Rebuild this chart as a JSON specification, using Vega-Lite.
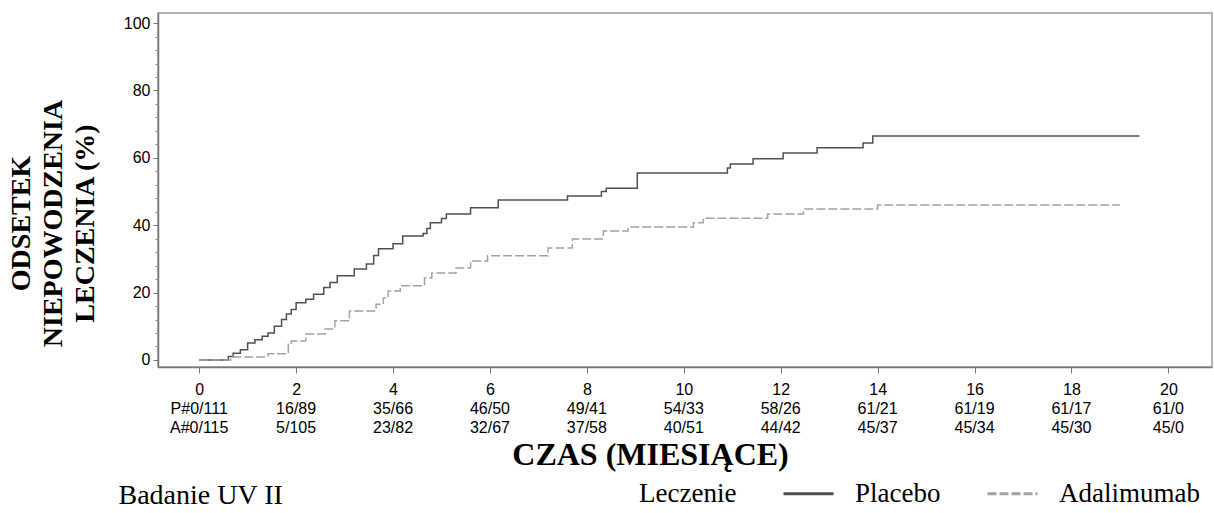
{
  "$schema": "https://vega.github.io/schema/vega-lite/v6.json",
  "padding": {"left": 6, "top": 12, "right": 0, "bottom": 0},
  "background": "white",
  "config": {"view": {"stroke": "#9a9a9a", "strokeWidth": 1.5}, "font": "Liberation Sans"},
  "spacing": 32,
  "bounds": "flush",
  "datasets": {
    "km": [
      {"grp": "Placebo", "t": 0, "v": 0},
      {"grp": "Placebo", "t": 0.6, "v": 1},
      {"grp": "Placebo", "t": 0.7, "v": 2},
      {"grp": "Placebo", "t": 0.85, "v": 3},
      {"grp": "Placebo", "t": 1.0, "v": 5},
      {"grp": "Placebo", "t": 1.15, "v": 6},
      {"grp": "Placebo", "t": 1.3, "v": 7},
      {"grp": "Placebo", "t": 1.42, "v": 8},
      {"grp": "Placebo", "t": 1.55, "v": 10},
      {"grp": "Placebo", "t": 1.7, "v": 12},
      {"grp": "Placebo", "t": 1.8, "v": 13.6},
      {"grp": "Placebo", "t": 1.9, "v": 15},
      {"grp": "Placebo", "t": 2.0, "v": 17},
      {"grp": "Placebo", "t": 2.2, "v": 18},
      {"grp": "Placebo", "t": 2.36, "v": 19.5},
      {"grp": "Placebo", "t": 2.57, "v": 21.5},
      {"grp": "Placebo", "t": 2.7, "v": 23},
      {"grp": "Placebo", "t": 2.85, "v": 25},
      {"grp": "Placebo", "t": 3.2, "v": 27},
      {"grp": "Placebo", "t": 3.45, "v": 28.5},
      {"grp": "Placebo", "t": 3.6, "v": 31},
      {"grp": "Placebo", "t": 3.7, "v": 33},
      {"grp": "Placebo", "t": 4.0, "v": 34.5},
      {"grp": "Placebo", "t": 4.2, "v": 36.8},
      {"grp": "Placebo", "t": 4.62, "v": 37.5},
      {"grp": "Placebo", "t": 4.7, "v": 39},
      {"grp": "Placebo", "t": 4.77, "v": 40.7},
      {"grp": "Placebo", "t": 5.0, "v": 42},
      {"grp": "Placebo", "t": 5.1, "v": 43.3},
      {"grp": "Placebo", "t": 5.6, "v": 45.2},
      {"grp": "Placebo", "t": 6.17, "v": 47.5},
      {"grp": "Placebo", "t": 7.6, "v": 48.7},
      {"grp": "Placebo", "t": 8.3, "v": 50},
      {"grp": "Placebo", "t": 8.4, "v": 51},
      {"grp": "Placebo", "t": 9.04, "v": 55.5},
      {"grp": "Placebo", "t": 10.9, "v": 57},
      {"grp": "Placebo", "t": 10.96, "v": 58.2},
      {"grp": "Placebo", "t": 11.43, "v": 59.7},
      {"grp": "Placebo", "t": 12.05, "v": 61.4},
      {"grp": "Placebo", "t": 12.75, "v": 63},
      {"grp": "Placebo", "t": 13.7, "v": 64.4},
      {"grp": "Placebo", "t": 13.9, "v": 66.5},
      {"grp": "Placebo", "t": 19.4, "v": 66.5},
      {"grp": "Adalimumab", "t": 0, "v": 0},
      {"grp": "Adalimumab", "t": 0.65, "v": 0.9},
      {"grp": "Adalimumab", "t": 1.42, "v": 1.8},
      {"grp": "Adalimumab", "t": 1.84, "v": 4.7},
      {"grp": "Adalimumab", "t": 1.9, "v": 5.6},
      {"grp": "Adalimumab", "t": 2.2, "v": 7.7},
      {"grp": "Adalimumab", "t": 2.6, "v": 9.2},
      {"grp": "Adalimumab", "t": 2.8, "v": 11.6},
      {"grp": "Adalimumab", "t": 3.1, "v": 14.5},
      {"grp": "Adalimumab", "t": 3.65, "v": 16.5},
      {"grp": "Adalimumab", "t": 3.8, "v": 18.4},
      {"grp": "Adalimumab", "t": 3.9, "v": 20.5},
      {"grp": "Adalimumab", "t": 4.15, "v": 22},
      {"grp": "Adalimumab", "t": 4.65, "v": 24.3},
      {"grp": "Adalimumab", "t": 4.8, "v": 25.8},
      {"grp": "Adalimumab", "t": 5.3, "v": 27.3},
      {"grp": "Adalimumab", "t": 5.6, "v": 29.4},
      {"grp": "Adalimumab", "t": 5.95, "v": 30.9},
      {"grp": "Adalimumab", "t": 7.2, "v": 33.2},
      {"grp": "Adalimumab", "t": 7.7, "v": 35.9},
      {"grp": "Adalimumab", "t": 8.34, "v": 38.3},
      {"grp": "Adalimumab", "t": 8.85, "v": 39.5},
      {"grp": "Adalimumab", "t": 10.2, "v": 40.7},
      {"grp": "Adalimumab", "t": 10.4, "v": 42.1},
      {"grp": "Adalimumab", "t": 11.73, "v": 43.3},
      {"grp": "Adalimumab", "t": 12.47, "v": 44.8},
      {"grp": "Adalimumab", "t": 14.0, "v": 46},
      {"grp": "Adalimumab", "t": 19.0, "v": 46}
    ],
    "risk": [
      {"row": "P", "t": 0, "label": "P#0/111"},
      {"row": "P", "t": 2, "label": "16/89"},
      {"row": "P", "t": 4, "label": "35/66"},
      {"row": "P", "t": 6, "label": "46/50"},
      {"row": "P", "t": 8, "label": "49/41"},
      {"row": "P", "t": 10, "label": "54/33"},
      {"row": "P", "t": 12, "label": "58/26"},
      {"row": "P", "t": 14, "label": "61/21"},
      {"row": "P", "t": 16, "label": "61/19"},
      {"row": "P", "t": 18, "label": "61/17"},
      {"row": "P", "t": 20, "label": "61/0"},
      {"row": "A", "t": 0, "label": "A#0/115"},
      {"row": "A", "t": 2, "label": "5/105"},
      {"row": "A", "t": 4, "label": "23/82"},
      {"row": "A", "t": 6, "label": "32/67"},
      {"row": "A", "t": 8, "label": "37/58"},
      {"row": "A", "t": 10, "label": "40/51"},
      {"row": "A", "t": 12, "label": "44/42"},
      {"row": "A", "t": 14, "label": "45/37"},
      {"row": "A", "t": 16, "label": "45/34"},
      {"row": "A", "t": 18, "label": "45/30"},
      {"row": "A", "t": 20, "label": "45/0"}
    ]
  },
  "vconcat": [
    {
      "width": 1054,
      "height": 354,
      "data": {"name": "km"},
      "layer": [
        {
          "mark": {"type": "line", "interpolate": "step-after", "strokeWidth": 1.5},
          "encoding": {
            "x": {"field": "t", "type": "quantitative",
              "scale": {"domain": [-0.85, 20.9], "nice": false, "zero": false},
              "axis": {"values": [0, 2, 4, 6, 8, 10, 12, 14, 16, 18, 20], "title": null, "grid": false, "tickSize": 6, "labelPadding": 8, "labelFontSize": 16, "labelFont": "Liberation Sans", "labelColor": "#000", "domainColor": "#777", "tickColor": "#777", "domainWidth": 1.5, "labelFlush": false}},
            "y": {"field": "v", "type": "quantitative",
              "scale": {"domain": [-2.1, 103], "nice": false, "zero": false},
              "axis": {"values": [0, 20, 40, 60, 80, 100], "grid": false, "tickSize": 5, "labelPadding": 3, "labelFontSize": 16, "labelFont": "Liberation Sans", "labelColor": "#000", "domainColor": "#777", "tickColor": "#777", "domainWidth": 1.5,
                "title": ["ODSETEK", "NIEPOWODZENIA", "LECZENIA (%)"], "titleFont": "Liberation Serif", "titleFontSize": 28, "titleFontWeight": "bold", "titleColor": "#000", "titleLineHeight": 32, "titleAngle": -90, "titleAlign": "center", "titleBaseline": "bottom", "titleX": -123, "titleY": 210}},
            "color": {"field": "grp", "type": "nominal",
              "scale": {"domain": ["Leczenie", "Placebo", "Adalimumab"], "range": ["rgba(0,0,0,0)", "#505050", "#a3a3a3"]},
              "legend": {"title": null, "orient": "none", "legendX": 408, "legendY": 454, "direction": "horizontal", "labelFont": "Liberation Serif", "labelFontSize": 27, "labelColor": "#000", "symbolType": "stroke", "symbolSize": 2500, "symbolStrokeWidth": 3, "labelOffset": 20, "columnPadding": 40}},
            "strokeDash": {"field": "grp", "type": "nominal",
              "scale": {"domain": ["Leczenie", "Placebo", "Adalimumab"], "range": [[1, 0], [1, 0], [9, 3]]},
              "legend": {"title": null, "orient": "none", "legendX": 408, "legendY": 454, "direction": "horizontal", "labelFont": "Liberation Serif", "labelFontSize": 27, "labelColor": "#000", "symbolType": "stroke", "symbolSize": 2500, "symbolStrokeWidth": 3, "labelOffset": 20, "columnPadding": 40}}
          }
        },
        {
          "mark": {"type": "line", "opacity": 0},
          "encoding": {
            "x": {"field": "t", "type": "quantitative", "scale": {"domain": [-0.85, 20.9], "nice": false, "zero": false},
              "axis": {"orient": "bottom", "labels": false, "ticks": false, "domain": false, "grid": false, "title": "Badanie UV II", "titleX": -40, "titleY": 136, "titleAlign": "left", "titleAnchor": "start", "titleBaseline": "alphabetic", "titleFont": "Liberation Serif", "titleFontSize": 28, "titleFontWeight": "normal", "titleColor": "#000"}},
            "y": {"field": "v", "type": "quantitative",
              "scale": {"domain": [-2.1, 103], "nice": false, "zero": false},
              "axis": {"orient": "left", "values": [4, 8, 12, 16, 24, 28, 32, 36, 44, 48, 52, 56, 64, 68, 72, 76, 84, 88, 92, 96], "labels": false, "domain": false, "grid": false, "tickSize": 3, "tickColor": "#888", "title": null}}
          }
        }
      ],
      "resolve": {"axis": {"y": "independent", "x": "independent"}}
    },
    {
      "width": 1054,
      "height": 38,
      "view": {"stroke": null},
      "data": {"name": "risk"},
      "mark": {"type": "text", "fontSize": 16, "font": "Liberation Sans", "color": "#000", "baseline": "middle"},
      "encoding": {
        "x": {"field": "t", "type": "quantitative",
          "scale": {"domain": [-0.85, 20.9], "nice": false, "zero": false},
          "axis": {"labels": false, "ticks": false, "domain": false, "grid": false, "title": "CZAS (MIESIĄCE)", "titleFont": "Liberation Serif", "titleFontSize": 32, "titleFontWeight": "bold", "titleColor": "#000", "titleX": 492, "titleY": 27, "titleBaseline": "alphabetic", "titleAlign": "center"}},
        "y": {"field": "row", "type": "nominal", "scale": {"type": "point", "domain": ["P", "A"], "padding": 0.5}, "axis": null},
        "text": {"field": "label"}
      }
    }
  ]
}
